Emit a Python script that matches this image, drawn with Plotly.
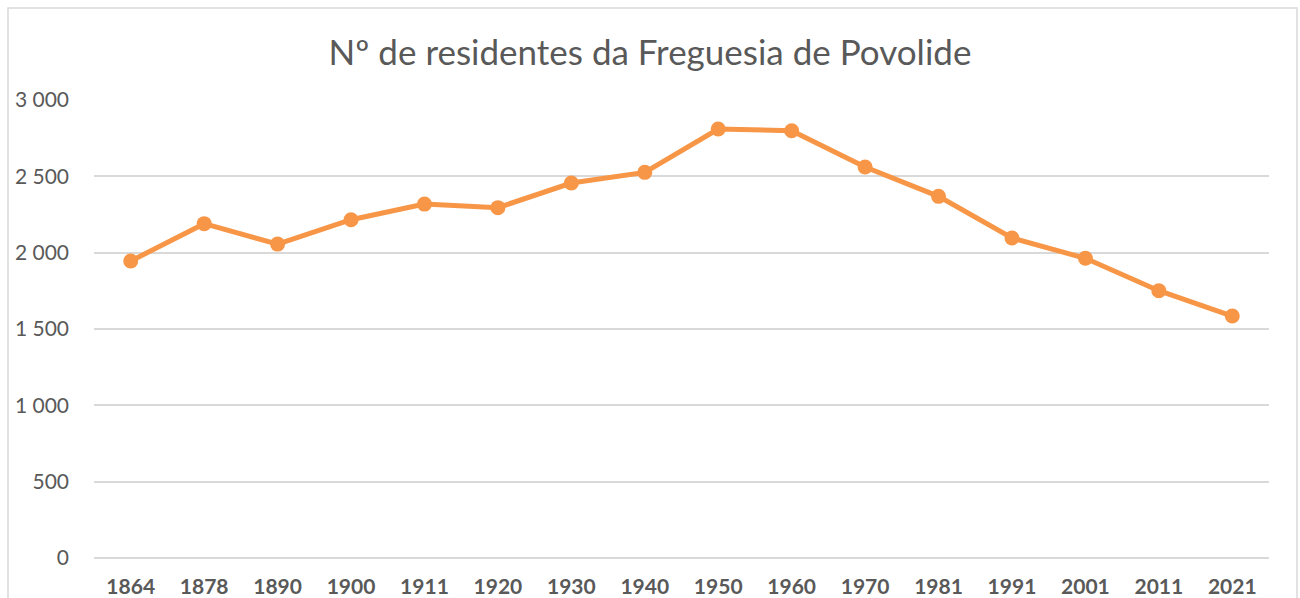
import plotly.graph_objects as go

anos = ["1864", "1878", "1890", "1900", "1911", "1920", "1930", "1940",
        "1950", "1960", "1970", "1981", "1991", "2001", "2011", "2021"]
residentes = [1945, 2190, 2056, 2216, 2318, 2295, 2456, 2526,
              2810, 2799, 2561, 2369, 2096, 1963, 1751, 1585]
y_ticks = [0, 500, 1000, 1500, 2000, 2500, 3000]
titulo = "Nº de residentes da Freguesia de Povolide"

ORANGE = "#F79646"
TEXT = "#595959"
GRID = "#D9D9D9"
FONT = "Lato"

fig = go.Figure()
fig.add_trace(go.Scatter(
    x=anos, y=residentes, mode="lines+markers",
    line=dict(color=ORANGE, width=5),
    marker=dict(color=ORANGE, size=15),
    showlegend=False, hoverinfo="x+y",
))

fig.update_layout(
    width=1300, height=598,
    margin=dict(l=94, r=31, t=100, b=40),
    paper_bgcolor="white", plot_bgcolor="white",
    separators=", ",
    font=dict(family=FONT, color=TEXT),
    title=dict(text=titulo, x=0.5, xref="container", xanchor="center",
               y=1 - 53 / 598, yref="container", yanchor="middle",
               font=dict(family=FONT, size=35, color=TEXT)),
    xaxis=dict(type="category", range=[-0.5, len(anos) - 0.5],
               showgrid=False, showline=False, zeroline=False, automargin=False,
               ticks="", tickfont=dict(family=FONT, size=21, color=TEXT, weight="bold"),
               ticklabelstandoff=14),
    yaxis=dict(range=[0, 3000], tickvals=y_ticks, tickformat=",d", automargin=False,
               showgrid=True, gridcolor=GRID, gridwidth=1.5,
               zeroline=True, zerolinecolor=GRID, zerolinewidth=1.5,
               showline=False, ticks="",
               tickfont=dict(family=FONT, size=21, color=TEXT),
               ticklabelstandoff=24),
    shapes=[dict(type="rect", xref="paper", yref="paper",
                 x0=(8 - 94) / 1175, x1=(1297 - 94) / 1175,
                 y0=-0.2, y1=(557.5 - 7.5) / 458,
                 line=dict(color=GRID, width=1.5), fillcolor="rgba(0,0,0,0)",
                 layer="below")],
)

fig.write_html("out.html", config={"displayModeBar": False},
               post_script="document.body.style.margin='0';document.body.style.overflow='hidden';")
